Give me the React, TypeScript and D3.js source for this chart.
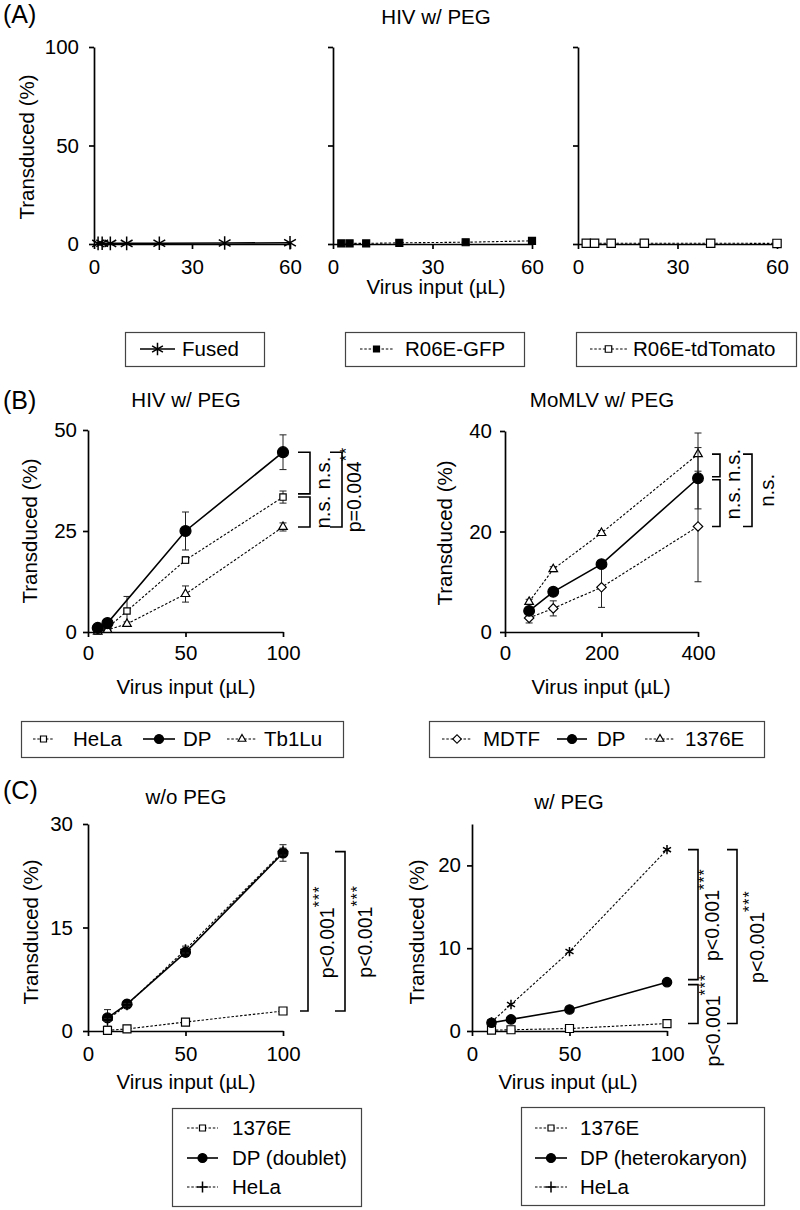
import { useEffect, useRef } from "react"
import * as d3 from "d3"

// ---------- (A) HIV w/ PEG ----------
const fusedInput = [1.25, 2.5, 5, 10, 20, 40, 60]
const fusedPct = [0.3, 0.4, 0.3, 0.3, 0.4, 0.5, 0.6]
const gfpInput = [2.5, 5, 10, 20, 40, 60]
const gfpPct = [0.3, 0.3, 0.3, 0.6, 0.9, 1.6]
const tomatoInput = [2.5, 5, 10, 20, 40, 60]
const tomatoPct = [0.4, 0.4, 0.4, 0.4, 0.4, 0.3]
const aTicksX = [0, 30, 60]
const aTicksY = [0, 50, 100]

// ---------- (B) HIV w/ PEG ----------
const hivInput = [5, 10, 20, 50, 100]
const hivHeLa = [0.3, 1.0, 5.2, 17.8, 33.4]
const hivHeLaErr = [0.2, 0.4, 3.6, 0.8, 1.5]
const hivDPInput = [5, 10, 50, 100]
const hivDP = [1.0, 2.2, 25.0, 44.5]
const hivDPErr = [0.4, 0.6, 4.7, 4.3]
const hivTb1Lu = [0.1, 0.5, 2.0, 9.4, 26.0]
const hivTb1LuErr = [0.1, 0.3, 0.5, 2.0, 1.0]
const hivTicksX = [0, 50, 100]
const hivTicksY = [0, 25, 50]

// ---------- (B) MoMLV w/ PEG ----------
const mlvInput = [50, 100, 200, 400]
const mlvMDTF = [2.8, 4.7, 8.9, 21.0]
const mlvMDTFErr = [1.0, 1.5, 4.0, 11.0]
const mlvDP = [4.2, 8.0, 13.5, 30.6]
const mlvDPErr = [0.5, 0.7, 0.6, 6.1]
const mlv1376E = [6.0, 12.5, 19.7, 35.4]
const mlv1376EErr = [0.5, 0.5, 0.5, 4.2]
const mlvTicksX = [0, 200, 400]
const mlvTicksY = [0, 20, 40]

// ---------- (C) w/o PEG and w/ PEG ----------
const cInput = [10, 20, 50, 100]
const woPeg1376E = [0.1, 0.3, 1.3, 2.9]
const woPeg1376EErr = [0.1, 0.1, 0.2, 0.2]
const woPegDP = [1.9, 3.9, 11.4, 25.8]
const woPegDPErr = [1.2, 0.3, 0.6, 1.2]
const woPegHeLa = [1.6, 3.8, 11.8, 26.0]
const woPegHeLaErr = [0.2, 0.2, 0.5, 0.5]
const wPeg1376E = [0.1, 0.15, 0.3, 0.9]
const wPegDP = [1.0, 1.4, 2.6, 5.9]
const wPegHeLa = [1.1, 3.2, 9.6, 21.9]
const cTicksX = [0, 50, 100]
const woPegTicksY = [0, 15, 30]
const wPegTicksY = [0, 10, 20]

const FONT = "'Liberation Sans', Arial, Helvetica, sans-serif"
const FS = 20.5

type MarkerKind = "asterisk" | "fsquare" | "osquare" | "fcircle" | "otriangle" | "odiamond" | "plus"

interface SeriesSpec {
  x: number[]
  y: number[]
  err?: number[]
  marker: MarkerKind
  size: number
  dashed: boolean
}

interface BracketSpec {
  top: number
  bottom: number
  dx: number
  w: number
  label: string
  sup?: string
  ldx: number
  shift?: number
}

interface PanelSpec {
  left: number
  right: number
  top: number
  bottom: number
  xMax: number
  yMax: number
  xTicks: number[]
  yTicks: number[]
  yLabels: boolean
  xPad: number
  yPad: number
  series: SeriesSpec[]
  brackets?: BracketSpec[]
}

const drawMarker = (g: any, kind: MarkerKind, cx: number, cy: number, size: number) => {
  let type: any = d3.symbolSquare
  let fill = "#fff"
  let rot = 0
  if (kind === "fsquare") fill = "#000"
  if (kind === "fcircle") {
    type = d3.symbolCircle
    fill = "#000"
  }
  if (kind === "otriangle") type = d3.symbolTriangle
  if (kind === "odiamond") rot = 45
  if (kind === "asterisk") {
    type = d3.symbolAsterisk
    fill = "none"
  }
  if (kind === "plus") {
    type = d3.symbolPlus
    fill = "none"
  }
  g.append("path")
    .attr("d", d3.symbol(type, size)())
    .attr("transform", `translate(${cx},${cy}) rotate(${rot})`)
    .attr("fill", fill)
    .attr("stroke", "#000")
    .attr("stroke-width", kind === "asterisk" || kind === "plus" ? 1.5 : 1.2)
}

const drawPanel = (svg: any, p: PanelSpec) => {
  const x = d3.scaleLinear().domain([0, p.xMax]).range([p.left, p.right])
  const y = d3.scaleLinear().domain([0, p.yMax]).range([p.bottom, p.top])
  const g = svg.append("g")

  // axes
  const ax = g
    .append("g")
    .attr("transform", `translate(0,${p.bottom})`)
    .call(d3.axisBottom(x).tickValues(p.xTicks).tickSize(5).tickSizeOuter(0).tickPadding(p.xPad))
  const ay = g
    .append("g")
    .attr("transform", `translate(${p.left},0)`)
    .call(
      d3
        .axisLeft(y)
        .tickValues(p.yTicks)
        .tickSize(5)
        .tickSizeOuter(0)
        .tickPadding(p.yPad)
        .tickFormat((d: any) => (p.yLabels ? String(d) : ""))
    )
  for (const a of [ax, ay]) {
    a.attr("font-family", FONT).attr("font-size", FS)
    a.selectAll("path,line").attr("stroke", "#000").attr("stroke-width", 1.7)
    a.selectAll("text").attr("fill", "#000")
  }

  // series
  p.series.forEach((s) => {
    const idx = s.x.map((_, i) => i)
    const line = d3
      .line<number>()
      .x((i) => x(s.x[i]))
      .y((i) => y(s.y[i]))
    g.append("path")
      .attr("d", line(idx))
      .attr("fill", "none")
      .attr("stroke", "#000")
      .attr("stroke-width", s.dashed ? 1.1 : 1.6)
      .attr("stroke-dasharray", s.dashed ? "2.5,1.8" : null)

    if (s.err) {
      idx.forEach((i) => {
        const e = s.err![i]
        const cx = x(s.x[i])
        const y1 = y(s.y[i] + e)
        const y2 = y(Math.max(0, s.y[i] - e))
        g.append("path")
          .attr("d", `M${cx},${y1}V${y2}M${cx - 3.5},${y1}H${cx + 3.5}M${cx - 3.5},${y2}H${cx + 3.5}`)
          .attr("fill", "none")
          .attr("stroke", "#222")
          .attr("stroke-width", 1)
      })
    }
    idx.forEach((i) => drawMarker(g, s.marker, x(s.x[i]), y(s.y[i]), s.size))
  })

  // significance brackets
  ;(p.brackets || []).forEach((b) => {
    const x0 = p.right + b.dx
    const x1 = x0 + b.w
    const yt = y(b.top)
    const yb = y(b.bottom)
    g.append("path")
      .attr("d", `M${x0},${yt}H${x1}V${yb}H${x0}`)
      .attr("fill", "none")
      .attr("stroke", "#000")
      .attr("stroke-width", 1.6)
    const isP = !!b.sup
    const t = g
      .append("text")
      .attr("transform", `translate(${p.right + b.ldx},${(yt + yb) / 2 + (b.shift || 0)}) rotate(-90)`)
      .attr("text-anchor", "middle")
      .attr("font-family", FONT)
      .attr("font-size", isP ? 19.5 : FS)
      .attr("fill", "#000")
    t.append("tspan").attr("dy", "0.35em").text(b.label)
    if (b.sup) t.append("tspan").attr("dy", "-0.55em").attr("font-size", 16).attr("letter-spacing", 1).text(b.sup)
  })
}

const addText = (svg: any, str: string, cx: number, cy: number, rotate = false, anchor = "middle", size = FS) => {
  svg
    .append("text")
    .attr("transform", `translate(${cx},${cy})${rotate ? " rotate(-90)" : ""}`)
    .attr("text-anchor", anchor)
    .attr("dy", "0.35em")
    .attr("font-family", FONT)
    .attr("font-size", size)
    .attr("fill", "#000")
    .text(str)
}

interface LegendItem {
  label: string
  marker: MarkerKind
  size: number
  dashed: boolean
  sx1: number
  sx2: number
  tx: number
  y: number
}

const drawLegend = (svg: any, box: [number, number, number, number], items: LegendItem[]) => {
  svg
    .append("rect")
    .attr("x", box[0] + 0.5)
    .attr("y", box[1] + 0.5)
    .attr("width", box[2] - box[0])
    .attr("height", box[3] - box[1])
    .attr("fill", "none")
    .attr("stroke", "#444")
    .attr("stroke-width", 1.2)
  items.forEach((it) => {
    svg
      .append("line")
      .attr("x1", it.sx1)
      .attr("x2", it.sx2)
      .attr("y1", it.y)
      .attr("y2", it.y)
      .attr("stroke", "#000")
      .attr("stroke-width", it.dashed ? 1.1 : 1.6)
      .attr("stroke-dasharray", it.dashed ? "2.5,1.8" : null)
    drawMarker(svg, it.marker, (it.sx1 + it.sx2) / 2, it.y, it.size)
    addText(svg, it.label, it.tx, it.y, false, "start")
  })
}

const App = () => {
  const ref = useRef<SVGSVGElement>(null)

  useEffect(() => {
    document.body.style.margin = "0"
    const svg = d3.select(ref.current)
    svg.selectAll("*").remove()

    // panel letters
    addText(svg, "(A)", 3, 14, false, "start", 25)
    addText(svg, "(B)", 3, 400, false, "start", 25)
    addText(svg, "(C)", 3, 790, false, "start", 25)

    // ---- (A) ----
    const aBase = { top: 47, bottom: 244, xMax: 60, yMax: 100, xTicks: aTicksX, yTicks: aTicksY, xPad: 10, yPad: 10 }
    drawPanel(svg, {
      ...aBase,
      left: 94,
      right: 290,
      yLabels: true,
      series: [{ x: fusedInput, y: fusedPct, marker: "asterisk", size: 130, dashed: false }],
    })
    drawPanel(svg, {
      ...aBase,
      left: 333,
      right: 532,
      yLabels: false,
      series: [{ x: gfpInput, y: gfpPct, marker: "fsquare", size: 49, dashed: true }],
    })
    drawPanel(svg, {
      ...aBase,
      left: 578,
      right: 777,
      yLabels: false,
      series: [{ x: tomatoInput, y: tomatoPct, marker: "osquare", size: 70, dashed: true }],
    })
    addText(svg, "HIV w/ PEG", 436, 17)
    addText(svg, "Transduced (%)", 27, 147, true)
    addText(svg, "Virus input (µL)", 436, 287)
    drawLegend(svg, [125, 332, 264, 366], [
      { label: "Fused", marker: "asterisk", size: 110, dashed: false, sx1: 140, sx2: 175, tx: 182, y: 349 },
    ])
    drawLegend(svg, [345, 332, 524, 366], [
      { label: "R06E-GFP", marker: "fsquare", size: 36, dashed: true, sx1: 360, sx2: 393, tx: 405, y: 349 },
    ])
    drawLegend(svg, [576, 332, 796, 366], [
      { label: "R06E-tdTomato", marker: "osquare", size: 42, dashed: true, sx1: 590, sx2: 627, tx: 633, y: 349 },
    ])

    // ---- (B) HIV ----
    drawPanel(svg, {
      left: 88,
      right: 283,
      top: 430,
      bottom: 632,
      xMax: 100,
      yMax: 50,
      xTicks: hivTicksX,
      yTicks: hivTicksY,
      yLabels: true,
      xPad: 8,
      yPad: 6,
      series: [
        { x: hivInput, y: hivHeLa, err: hivHeLaErr, marker: "osquare", size: 40, dashed: true },
        { x: hivInput, y: hivTb1Lu, err: hivTb1LuErr, marker: "otriangle", size: 32, dashed: true },
        { x: hivDPInput, y: hivDP, err: hivDPErr, marker: "fcircle", size: 95, dashed: false },
      ],
      brackets: [
        { top: 44.5, bottom: 34.2, dx: 15, w: 12, label: "n.s.", ldx: 40 },
        { top: 33.4, bottom: 26.0, dx: 15, w: 12, label: "n.s.", ldx: 40 },
        { top: 44.5, bottom: 26.0, dx: 47, w: 12, label: "p=0.004", sup: "**", ldx: 71 },
      ],
    })
    addText(svg, "HIV w/ PEG", 186, 400)
    addText(svg, "Transduced (%)", 30, 531, true)
    addText(svg, "Virus input (µL)", 186, 687)

    // ---- (B) MoMLV ----
    drawPanel(svg, {
      left: 505,
      right: 698,
      top: 431,
      bottom: 632,
      xMax: 400,
      yMax: 40,
      xTicks: mlvTicksX,
      yTicks: mlvTicksY,
      yLabels: true,
      xPad: 8,
      yPad: 8,
      series: [
        { x: mlvInput, y: mlvMDTF, err: mlvMDTFErr, marker: "odiamond", size: 45, dashed: true },
        { x: mlvInput, y: mlv1376E, err: mlv1376EErr, marker: "otriangle", size: 32, dashed: true },
        { x: mlvInput, y: mlvDP, err: mlvDPErr, marker: "fcircle", size: 90, dashed: false },
      ],
      brackets: [
        { top: 35.4, bottom: 30.9, dx: 14, w: 8, label: "n.s.", ldx: 35 },
        { top: 30.3, bottom: 21.0, dx: 14, w: 8, label: "n.s.", ldx: 35 },
        { top: 35.4, bottom: 21.0, dx: 45, w: 9, label: "n.s.", ldx: 69 },
      ],
    })
    addText(svg, "MoMLV w/ PEG", 602, 400)
    addText(svg, "Transduced (%)", 445, 533, true)
    addText(svg, "Virus input (µL)", 601, 687)

    drawLegend(svg, [21, 721, 343, 757], [
      { label: "HeLa", marker: "osquare", size: 36, dashed: true, sx1: 33, sx2: 54, tx: 73, y: 739 },
      { label: "DP", marker: "fcircle", size: 64, dashed: false, sx1: 143, sx2: 175, tx: 183, y: 739 },
      { label: "Tb1Lu", marker: "otriangle", size: 26, dashed: true, sx1: 227, sx2: 257, tx: 264, y: 739 },
    ])
    drawLegend(svg, [429, 721, 764, 757], [
      { label: "MDTF", marker: "odiamond", size: 36, dashed: true, sx1: 442, sx2: 472, tx: 483, y: 739 },
      { label: "DP", marker: "fcircle", size: 64, dashed: false, sx1: 557, sx2: 587, tx: 597, y: 739 },
      { label: "1376E", marker: "otriangle", size: 26, dashed: true, sx1: 645, sx2: 675, tx: 685, y: 739 },
    ])

    // ---- (C) w/o PEG ----
    drawPanel(svg, {
      left: 88,
      right: 283,
      top: 824,
      bottom: 1031,
      xMax: 100,
      yMax: 30,
      xTicks: cTicksX,
      yTicks: woPegTicksY,
      yLabels: true,
      xPad: 10,
      yPad: 10,
      series: [
        { x: cInput, y: woPeg1376E, err: woPeg1376EErr, marker: "osquare", size: 64, dashed: true },
        { x: cInput, y: woPegDP, err: woPegDPErr, marker: "fcircle", size: 78, dashed: false },
        { x: cInput, y: woPegHeLa, err: woPegHeLaErr, marker: "plus", size: 40, dashed: true },
      ],
      brackets: [
        { top: 25.8, bottom: 2.9, dx: 17, w: 8, label: "p<0.001", sup: "***", ldx: 44 },
        { top: 26.0, bottom: 2.9, dx: 52, w: 10, label: "p<0.001", sup: "***", ldx: 82 },
      ],
    })
    addText(svg, "w/o PEG", 186, 797)
    addText(svg, "Transduced (%)", 31, 932, true)
    addText(svg, "Virus input (µL)", 186, 1082)

    // ---- (C) w/ PEG ----
    drawPanel(svg, {
      left: 472,
      right: 667,
      top: 824,
      bottom: 1031,
      xMax: 100,
      yMax: 25,
      xTicks: cTicksX,
      yTicks: wPegTicksY,
      yLabels: true,
      xPad: 10,
      yPad: 6,
      series: [
        { x: cInput, y: wPeg1376E, marker: "osquare", size: 64, dashed: true },
        { x: cInput, y: wPegDP, marker: "fcircle", size: 70, dashed: false },
        { x: cInput, y: wPegHeLa, marker: "asterisk", size: 60, dashed: true },
      ],
      brackets: [
        { top: 21.9, bottom: 6.2, dx: 21, w: 10, label: "p<0.001", sup: "***", ldx: 45 },
        { top: 5.6, bottom: 0.9, dx: 21, w: 10, label: "p<0.001", sup: "***", ldx: 46, shift: 16 },
        { top: 21.9, bottom: 0.9, dx: 60, w: 10, label: "p<0.001", sup: "***", ldx: 90 },
      ],
    })
    addText(svg, "w/ PEG", 569, 802)
    addText(svg, "Transduced (%)", 417, 932, true)
    addText(svg, "Virus input (µL)", 568, 1082)

    drawLegend(svg, [172, 1108, 361, 1206], [
      { label: "1376E", marker: "osquare", size: 36, dashed: true, sx1: 187, sx2: 218, tx: 232, y: 1128 },
      { label: "DP (doublet)", marker: "fcircle", size: 64, dashed: false, sx1: 187, sx2: 218, tx: 232, y: 1158 },
      { label: "HeLa", marker: "plus", size: 40, dashed: true, sx1: 187, sx2: 218, tx: 232, y: 1187 },
    ])
    drawLegend(svg, [521, 1107, 764, 1205], [
      { label: "1376E", marker: "osquare", size: 36, dashed: true, sx1: 535, sx2: 567, tx: 580, y: 1128 },
      { label: "DP (heterokaryon)", marker: "fcircle", size: 64, dashed: false, sx1: 535, sx2: 567, tx: 580, y: 1158 },
      { label: "HeLa", marker: "plus", size: 40, dashed: true, sx1: 535, sx2: 567, tx: 580, y: 1187 },
    ])
  }, [])

  return (
    <div>
      <svg ref={ref} width={800} height={1210} style={{ display: "block", background: "#fff" }} />
    </div>
  )
}

export default App
